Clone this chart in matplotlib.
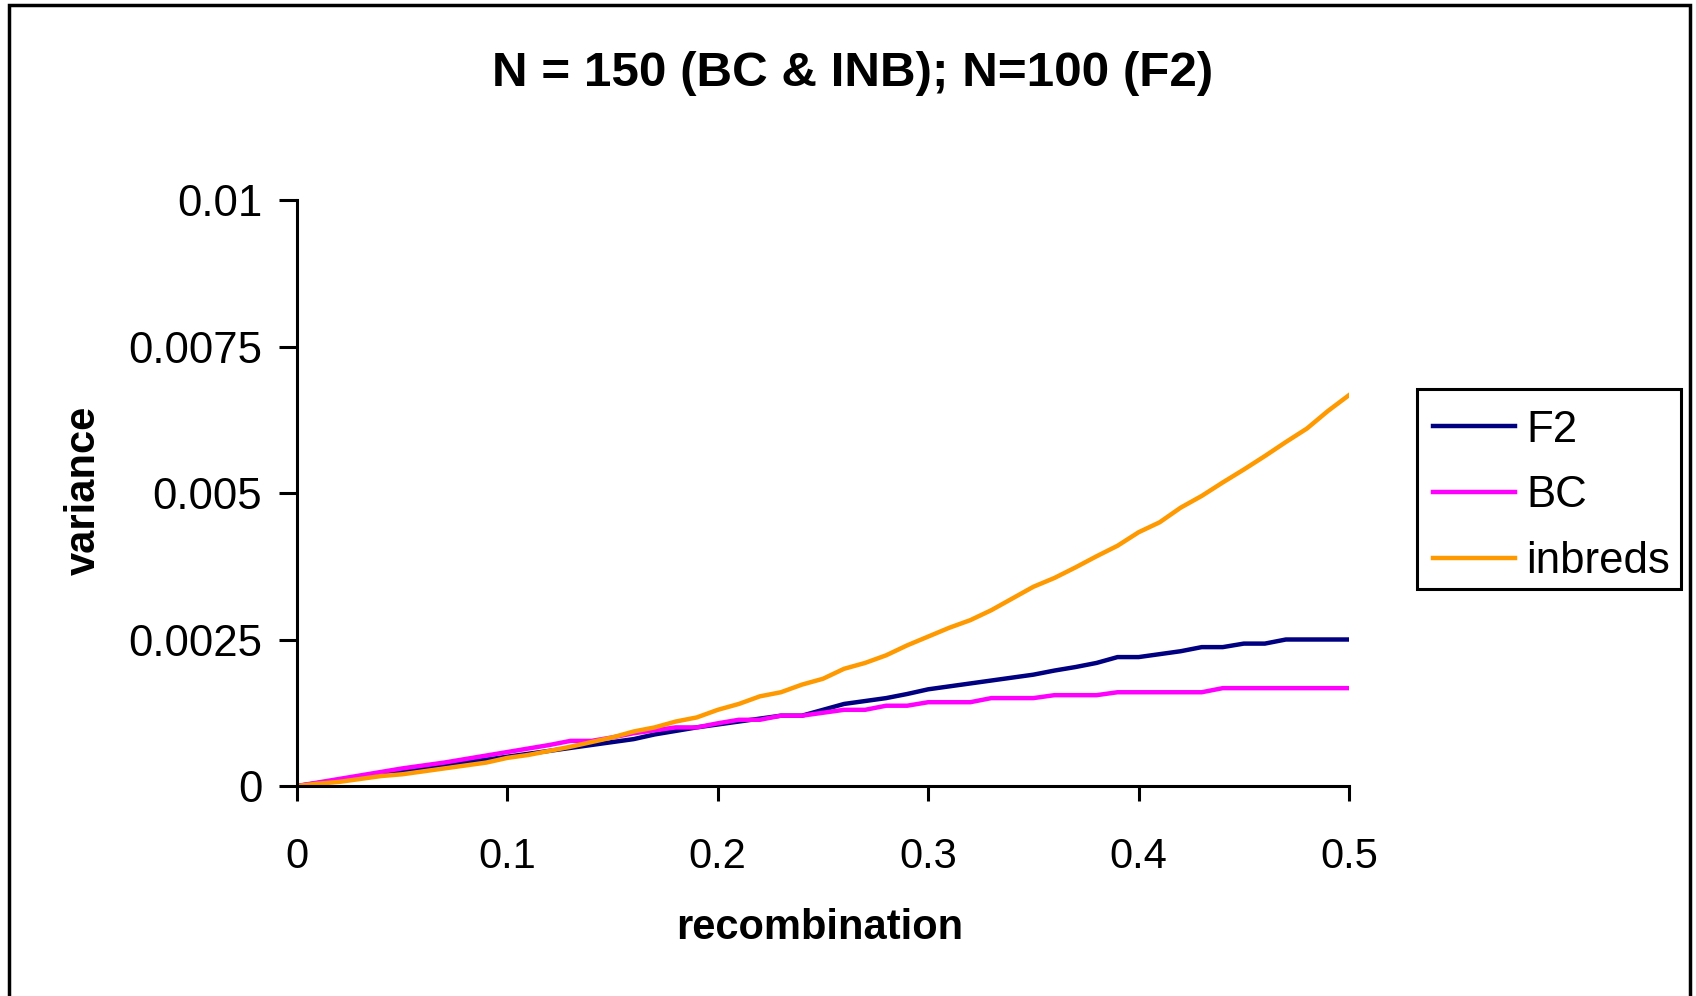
import matplotlib
matplotlib.use("Agg")
import matplotlib.pyplot as plt
from matplotlib.patches import Rectangle

plt.rcParams['font.family'] = ['Liberation Sans', 'DejaVu Sans']

recombination = [0.00, 0.01, 0.02, 0.03, 0.04, 0.05, 0.06, 0.07, 0.08, 0.09,
                 0.10, 0.11, 0.12, 0.13, 0.14, 0.15, 0.16, 0.17, 0.18, 0.19,
                 0.20, 0.21, 0.22, 0.23, 0.24, 0.25, 0.26, 0.27, 0.28, 0.29,
                 0.30, 0.31, 0.32, 0.33, 0.34, 0.35, 0.36, 0.37, 0.38, 0.39,
                 0.40, 0.41, 0.42, 0.43, 0.44, 0.45, 0.46, 0.47, 0.48, 0.49,
                 0.50]

f2 = [0.0, 0.00005, 0.0001, 0.00015, 0.0002, 0.00025, 0.0003, 0.00035, 0.0004, 0.00045,
      0.0005, 0.00055, 0.0006, 0.00065, 0.0007, 0.00075, 0.0008, 0.00088, 0.00094, 0.001,
      0.00105, 0.0011, 0.00115, 0.0012, 0.0012, 0.0013, 0.0014, 0.00145, 0.0015, 0.00157,
      0.00165, 0.0017, 0.00175, 0.0018, 0.00185, 0.0019, 0.00197, 0.00203, 0.0021, 0.0022,
      0.0022, 0.00225, 0.0023, 0.00237, 0.00237, 0.00243, 0.00243, 0.0025, 0.0025, 0.0025,
      0.0025]

bc = [0.0, 0.00006, 0.00012, 0.00018, 0.00024, 0.0003, 0.00035, 0.0004, 0.00046, 0.00052,
      0.00058, 0.00064, 0.0007, 0.00077, 0.00077, 0.00083, 0.0009, 0.00095, 0.001, 0.001,
      0.00107, 0.00113, 0.00113, 0.0012, 0.0012, 0.00125, 0.0013, 0.0013, 0.00137, 0.00137,
      0.00143, 0.00143, 0.00143, 0.0015, 0.0015, 0.0015, 0.00155, 0.00155, 0.00155, 0.0016,
      0.0016, 0.0016, 0.0016, 0.0016, 0.00167, 0.00167, 0.00167, 0.00167, 0.00167, 0.00167,
      0.00167]

inbreds = [0.0, 0.00004, 0.00007, 0.00012, 0.00017, 0.0002, 0.00025, 0.0003, 0.00035, 0.0004,
           0.00048, 0.00053, 0.0006, 0.00067, 0.00075, 0.00083, 0.00093, 0.001, 0.0011, 0.00117,
           0.0013, 0.0014, 0.00153, 0.0016, 0.00173, 0.00183, 0.002, 0.0021, 0.00223, 0.0024,
           0.00255, 0.0027, 0.00283, 0.003, 0.0032, 0.0034, 0.00355, 0.00373, 0.00392, 0.0041,
           0.00433, 0.0045, 0.00475, 0.00495, 0.00518, 0.0054, 0.00563, 0.00587, 0.0061, 0.0064,
           0.00667]

series_names = ["F2", "BC", "inbreds"]
series_colors = ["#000080", "#FF00FF", "#FF9900"]

x_ticks = [0, 0.1, 0.2, 0.3, 0.4, 0.5]
x_tick_labels = ["0", "0.1", "0.2", "0.3", "0.4", "0.5"]
y_ticks = [0, 0.0025, 0.005, 0.0075, 0.01]
y_tick_labels = ["0", "0.0025", "0.005", "0.0075", "0.01"]

W, H = 1696, 996
fig = plt.figure(figsize=(W / 100, H / 100), dpi=100)
ax = fig.add_axes([297 / W, 1 - 786 / H, (1349 - 297) / W, (786 - 200) / H])

for vals, name, col in zip([f2, bc, inbreds], series_names, series_colors):
    ax.plot(recombination, vals, color=col, lw=3.2, label=name, solid_joinstyle='round')

ax.set_xlim(0, 0.5)
ax.set_ylim(0, 0.01)
ax.set_xticks(x_ticks)
ax.set_xticklabels(x_tick_labels)
ax.set_yticks(y_ticks)
ax.set_yticklabels(y_tick_labels)
for s in ['top', 'right']:
    ax.spines[s].set_visible(False)
for s in ['left', 'bottom']:
    ax.spines[s].set_linewidth(2.2)
    ax.spines[s].set_color('black')
ax.tick_params(axis='y', direction='out', length=13, width=2.2, labelsize=31.5, pad=12)
ax.tick_params(axis='x', direction='out', length=11, width=2.2, labelsize=30, pad=26)
for lab in ax.get_xticklabels() + ax.get_yticklabels():
    lab.set_clip_on(False)

fig.text(853 / W, 1 - 73 / H, "N = 150 (BC & INB); N=100 (F2)", ha='center', va='center',
         fontsize=35.6, fontweight='bold')
fig.text(820 / W, 1 - 928 / H, "recombination", ha='center', va='center',
         fontsize=30, fontweight='bold')
fig.text(84 / W, 1 - 490 / H, "variance", ha='center', va='center', rotation=90,
         fontsize=30, fontweight='bold')

leg = ax.legend(loc='upper left', bbox_to_anchor=(1433 / W, 1 - 409.5 / H),
                bbox_transform=fig.transFigure, borderaxespad=0, fontsize=31.5,
                handlelength=1.88, handletextpad=0.25, borderpad=0.0,
                labelspacing=0.57, frameon=False)

# legend frame
fig.patches.append(Rectangle((1417 / W, 1 - 589 / H), (1681 - 1417) / W, (589 - 389) / H,
                             transform=fig.transFigure, fill=False,
                             edgecolor='black', linewidth=2.2))

# outer chart border
fig.patches.append(Rectangle((9 / W, -0.02), (1690 - 9) / W, 1.02 - 5 / H,
                             transform=fig.transFigure, fill=False,
                             edgecolor='black', linewidth=2.5))

fig.savefig("out.png", dpi=100, facecolor='white')
